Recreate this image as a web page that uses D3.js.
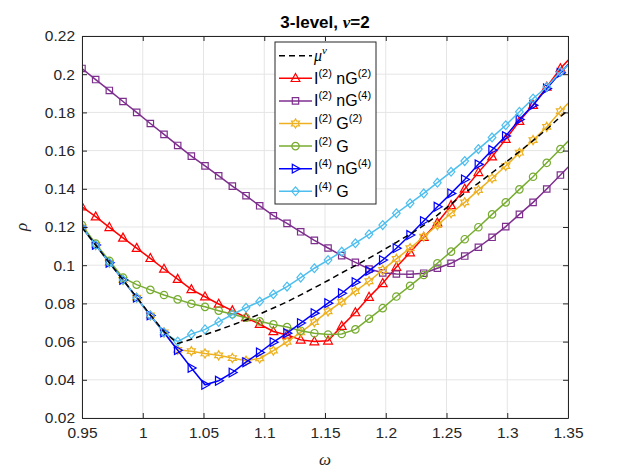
<!DOCTYPE html>
<html>
<head>
<meta charset="utf-8">
<script src="https://cdn.jsdelivr.net/npm/d3@7"></script>
<style>
  html, body { margin: 0; padding: 0; background: #fff; }
  svg { display: block; font-family: "Liberation Sans", Arial, sans-serif; }
</style>
</head>
<body>
<div id="chart"></div>
<script>
// omega grid (x values of every series)
var omega = [0.95000, 0.96125, 0.97250, 0.98375, 0.99500, 1.00625, 1.01750, 1.02875, 1.04000, 1.05125,
             1.06250, 1.07375, 1.08500, 1.09625, 1.10750, 1.11875, 1.13000, 1.14125, 1.15250, 1.16375,
             1.17500, 1.18625, 1.19750, 1.20875, 1.22000, 1.23125, 1.24250, 1.25375, 1.26500, 1.27625,
             1.28750, 1.29875, 1.31000, 1.32125, 1.33250, 1.34375, 1.35500];

var muNu   = [0.1198, 0.1106, 0.1013, 0.0923, 0.0832, 0.0740, 0.0652, 0.0590, 0.0612, 0.0636,
              0.0661, 0.0687, 0.0714, 0.0744, 0.0776, 0.0808, 0.0845, 0.0882, 0.0920, 0.0960,
              0.0998, 0.1037, 0.1078, 0.1120, 0.1162, 0.1208, 0.1262, 0.1320, 0.1378, 0.1430,
              0.1484, 0.1538, 0.1595, 0.1652, 0.1712, 0.1777, 0.1840];

var i2nG2  = [0.1306, 0.1254, 0.1198, 0.1143, 0.1089, 0.1036, 0.0980, 0.0927, 0.0873, 0.0835,
              0.0797, 0.0762, 0.0726, 0.0691, 0.0653, 0.0635, 0.0609, 0.0600, 0.0604, 0.0681,
              0.0752, 0.0833, 0.0905, 0.0990, 0.1066, 0.1146, 0.1222, 0.1313, 0.1399, 0.1486,
              0.1568, 0.1660, 0.1754, 0.1838, 0.1933, 0.2030, 0.2107];

var i2nG4  = [0.2030, 0.1972, 0.1915, 0.1857, 0.1800, 0.1742, 0.1685, 0.1627, 0.1571, 0.1520,
              0.1468, 0.1414, 0.1364, 0.1311, 0.1259, 0.1219, 0.1175, 0.1130, 0.1090, 0.1050,
              0.1015, 0.0980, 0.0960, 0.0954, 0.0953, 0.0958, 0.0984, 0.1010, 0.1048, 0.1094,
              0.1146, 0.1202, 0.1266, 0.1329, 0.1399, 0.1472, 0.1545];

var i2G2   = [0.1198, 0.1106, 0.1013, 0.0923, 0.0830, 0.0737, 0.0648, 0.0557, 0.0550, 0.0538,
              0.0528, 0.0514, 0.0500, 0.0512, 0.0553, 0.0599, 0.0648, 0.0702, 0.0758, 0.0808,
              0.0864, 0.0916, 0.0975, 0.1033, 0.1089, 0.1149, 0.1210, 0.1272, 0.1329, 0.1393,
              0.1455, 0.1519, 0.1589, 0.1655, 0.1724, 0.1806, 0.1880];

var i2G    = [0.1210, 0.1113, 0.1023, 0.0935, 0.0898, 0.0871, 0.0844, 0.0821, 0.0798, 0.0782,
              0.0762, 0.0743, 0.0725, 0.0706, 0.0690, 0.0676, 0.0657, 0.0644, 0.0637, 0.0640,
              0.0664, 0.0720, 0.0775, 0.0836, 0.0892, 0.0949, 0.1010, 0.1071, 0.1136, 0.1199,
              0.1266, 0.1329, 0.1397, 0.1463, 0.1536, 0.1608, 0.1680];

var i4nG4  = [0.1198, 0.1106, 0.1013, 0.0923, 0.0830, 0.0737, 0.0648, 0.0555, 0.0462, 0.0374,
              0.0395, 0.0438, 0.0492, 0.0543, 0.0597, 0.0644, 0.0697, 0.0749, 0.0801, 0.0853,
              0.0911, 0.0970, 0.1027, 0.1089, 0.1158, 0.1231, 0.1306, 0.1376, 0.1449, 0.1528,
              0.1603, 0.1676, 0.1763, 0.1838, 0.1925, 0.2007, 0.2085];

var i4G    = [0.1198, 0.1106, 0.1013, 0.0923, 0.0830, 0.0737, 0.0648, 0.0600, 0.0639, 0.0664,
              0.0703, 0.0742, 0.0777, 0.0810, 0.0848, 0.0888, 0.0935, 0.0984, 0.1027, 0.1071,
              0.1115, 0.1162, 0.1210, 0.1272, 0.1324, 0.1376, 0.1432, 0.1489, 0.1545, 0.1608,
              0.1669, 0.1733, 0.1803, 0.1873, 0.1933, 0.2012, 0.2075];

var xTicks = [0.95, 1, 1.05, 1.1, 1.15, 1.2, 1.25, 1.3, 1.35];
var xTickLabels = ["0.95", "1", "1.05", "1.1", "1.15", "1.2", "1.25", "1.3", "1.35"];
var yTicks = [0.02, 0.04, 0.06, 0.08, 0.1, 0.12, 0.14, 0.16, 0.18, 0.2, 0.22];
var yTickLabels = ["0.02", "0.04", "0.06", "0.08", "0.1", "0.12", "0.14", "0.16", "0.18", "0.2", "0.22"];

(function(d3) {

    var W = 628, H = 471;
    var left = 82, right = 568, top = 36, bottom = 418;
    var axisColor = "#262626";

    var svg = d3.select("#chart").append("svg")
        .attr("width", W).attr("height", H);

    var x = d3.scaleLinear().domain([0.95, 1.35]).range([left, right]);
    var y = d3.scaleLinear().domain([0.02, 0.22]).range([bottom, top]);

    svg.append("defs").append("clipPath").attr("id", "plotClip")
        .append("rect").attr("x", left).attr("y", top)
        .attr("width", right - left).attr("height", bottom - top);

    // grid
    var grid = svg.append("g").attr("class", "grid");
    grid.selectAll("line.gx").data(xTicks).enter().append("line")
        .attr("x1", function(d) { return x(d); }).attr("x2", function(d) { return x(d); })
        .attr("y1", top).attr("y2", bottom)
        .attr("stroke", "#e5e5e5").attr("stroke-width", 1);
    grid.selectAll("line.gy").data(yTicks).enter().append("line")
        .attr("y1", function(d) { return y(d); }).attr("y2", function(d) { return y(d); })
        .attr("x1", left).attr("x2", right)
        .attr("stroke", "#e5e5e5").attr("stroke-width", 1);

    // markers
    var markerPath = function(type) {
        switch (type) {
            case "tri":
                return "M0,-4.8L4.4,3.2L-4.4,3.2Z";
            case "rtri":
                return "M4.8,0L-3.2,4.4L-3.2,-4.4Z";
            case "square":
                return "M-3.2,-3.2H3.2V3.2H-3.2Z";
            case "circle":
                return "M3.7,0A3.7,3.7 0 1,1 -3.7,0A3.7,3.7 0 1,1 3.7,0Z";
            case "diamond":
                return "M0,-4.4L3.8,0L0,4.4L-3.8,0Z";
            case "hex":
                var R = 4.6, r = R / Math.sqrt(3), pts = [];
                for (var i = 0; i < 12; i++) {
                    var a = -Math.PI / 2 + i * Math.PI / 6;
                    var rad = i % 2 === 0 ? R : r;
                    pts.push((rad * Math.cos(a)).toFixed(2) + "," + (rad * Math.sin(a)).toFixed(2));
                }
                return "M" + pts.join("L") + "Z";
        }
        return "";
    };

    var series = [
        { values: i2nG2, color: "#ff0000", marker: "tri",     label: [["I", "(2)"], [" nG", "(2)"]] },
        { values: i2nG4, color: "#7e2f8e", marker: "square",  label: [["I", "(2)"], [" nG", "(4)"]] },
        { values: i2G2,  color: "#edb120", marker: "hex",     label: [["I", "(2)"], [" G", "(2)"]] },
        { values: i2G,   color: "#77ac30", marker: "circle",  label: [["I", "(2)"], [" G", ""]] },
        { values: i4nG4, color: "#0000ff", marker: "rtri",    label: [["I", "(4)"], [" nG", "(4)"]] },
        { values: i4G,   color: "#4dbeee", marker: "diamond", label: [["I", "(4)"], [" G", ""]] }
    ];

    var plot = svg.append("g").attr("clip-path", "url(#plotClip)");

    var line = d3.line()
        .x(function(d) { return x(d.w); })
        .y(function(d) { return y(d.v); });

    var toPoints = function(vals) {
        return vals.map(function(v, i) { return { w: omega[i], v: v }; });
    };

    series.forEach(function(s) {
        var pts = toPoints(s.values);
        var g = plot.append("g");
        g.append("path").datum(pts)
            .attr("d", line)
            .attr("fill", "none")
            .attr("stroke", s.color)
            .attr("stroke-width", 1.5);
        g.selectAll("path.mk").data(pts).enter().append("path")
            .attr("class", "mk")
            .attr("d", markerPath(s.marker))
            .attr("transform", function(d) { return "translate(" + x(d.w) + "," + y(d.v) + ")"; })
            .attr("fill", "none")
            .attr("stroke", s.color)
            .attr("stroke-width", 1.2);
    });

    // mu^nu dashed
    plot.append("path").datum(toPoints(muNu))
        .attr("d", line)
        .attr("fill", "none")
        .attr("stroke", "#000")
        .attr("stroke-width", 1.5)
        .attr("stroke-dasharray", "6,4");

    // axes
    var fmtX = function(d, i) { return xTickLabels[i]; };
    var fmtY = function(d, i) { return yTickLabels[i]; };

    var xAxis = svg.append("g").attr("transform", "translate(0," + bottom + ")")
        .call(d3.axisBottom(x).tickValues(xTicks).tickFormat(fmtX)
            .tickSizeInner(-5).tickSizeOuter(0).tickPadding(9));
    var yAxis = svg.append("g").attr("transform", "translate(" + left + ",0)")
        .call(d3.axisLeft(y).tickValues(yTicks).tickFormat(fmtY)
            .tickSizeInner(-5).tickSizeOuter(0).tickPadding(7));
    var xTop = svg.append("g").attr("transform", "translate(0," + top + ")")
        .call(d3.axisTop(x).tickValues(xTicks).tickFormat("")
            .tickSizeInner(-5).tickSizeOuter(0));
    var yRight = svg.append("g").attr("transform", "translate(" + right + ",0)")
        .call(d3.axisRight(y).tickValues(yTicks).tickFormat("")
            .tickSizeInner(-5).tickSizeOuter(0));

    [xAxis, yAxis, xTop, yRight].forEach(function(a) {
        a.select(".domain").attr("stroke", axisColor).attr("stroke-width", 1);
        a.selectAll(".tick line").attr("stroke", axisColor).attr("stroke-width", 1);
        a.selectAll(".tick text")
            .attr("fill", axisColor)
            .style("font-family", "'Liberation Sans', Arial, sans-serif")
            .style("font-size", "15.5px");
    });

    // title
    var title = svg.append("text")
        .attr("x", (left + right) / 2).attr("y", 28)
        .attr("text-anchor", "middle")
        .attr("fill", "#000")
        .style("font-size", "17px")
        .style("font-weight", "bold");
    title.append("tspan").text("3-level, ");
    title.append("tspan").style("font-family", "'Liberation Serif', serif")
        .style("font-style", "italic").text("\u03bd");
    title.append("tspan").text("=2");

    // axis labels
    svg.append("text")
        .attr("x", (left + right) / 2).attr("y", 465)
        .attr("text-anchor", "middle")
        .attr("fill", axisColor)
        .style("font-family", "'Liberation Serif', serif")
        .style("font-style", "italic")
        .style("font-size", "17px")
        .text("\u03c9");
    svg.append("text")
        .attr("transform", "translate(27," + (top + bottom) / 2 + ") rotate(-90)")
        .attr("text-anchor", "middle")
        .attr("fill", axisColor)
        .style("font-family", "'Liberation Serif', serif")
        .style("font-style", "italic")
        .style("font-size", "17px")
        .text("\u03c1");

    // legend
    var lg = svg.append("g").attr("class", "legend");
    var lx = 275, ly = 42, lw = 101, lh = 162, rowH = 22.6, row0 = 55.7;
    lg.append("rect").attr("x", lx).attr("y", ly).attr("width", lw).attr("height", lh)
        .attr("fill", "#fff").attr("stroke", axisColor).attr("stroke-width", 1);

    // mu entry
    lg.append("line").attr("x1", 279).attr("x2", 312)
        .attr("y1", row0).attr("y2", row0)
        .attr("stroke", "#000").attr("stroke-width", 1.5).attr("stroke-dasharray", "6,4");
    var muText = lg.append("text").attr("x", 314).attr("y", row0 + 5.5)
        .attr("fill", "#000")
        .style("font-family", "'Liberation Serif', serif")
        .style("font-style", "italic")
        .style("font-size", "16px");
    muText.append("tspan").text("\u03bc");
    muText.append("tspan").attr("dy", -7).style("font-size", "11px").text("\u03bd");

    series.forEach(function(s, i) {
        var cy = row0 + rowH * (i + 1);
        lg.append("line").attr("x1", 279).attr("x2", 312)
            .attr("y1", cy).attr("y2", cy)
            .attr("stroke", s.color).attr("stroke-width", 1.5);
        lg.append("path").attr("d", markerPath(s.marker))
            .attr("transform", "translate(295.5," + cy + ")")
            .attr("fill", "none").attr("stroke", s.color).attr("stroke-width", 1.2);
        var t = lg.append("text").attr("x", 314).attr("y", cy + 5.5)
            .attr("fill", "#000")
            .style("font-size", "16px");
        var shifted = false;
        s.label.forEach(function(part) {
            var base = t.append("tspan").text(part[0]);
            if (shifted) { base.attr("dy", 7); shifted = false; }
            if (part[1]) {
                t.append("tspan").attr("dy", -7).style("font-size", "11px").text(part[1]);
                shifted = true;
            }
        });
    });

})(d3);
</script>
</body>
</html>
